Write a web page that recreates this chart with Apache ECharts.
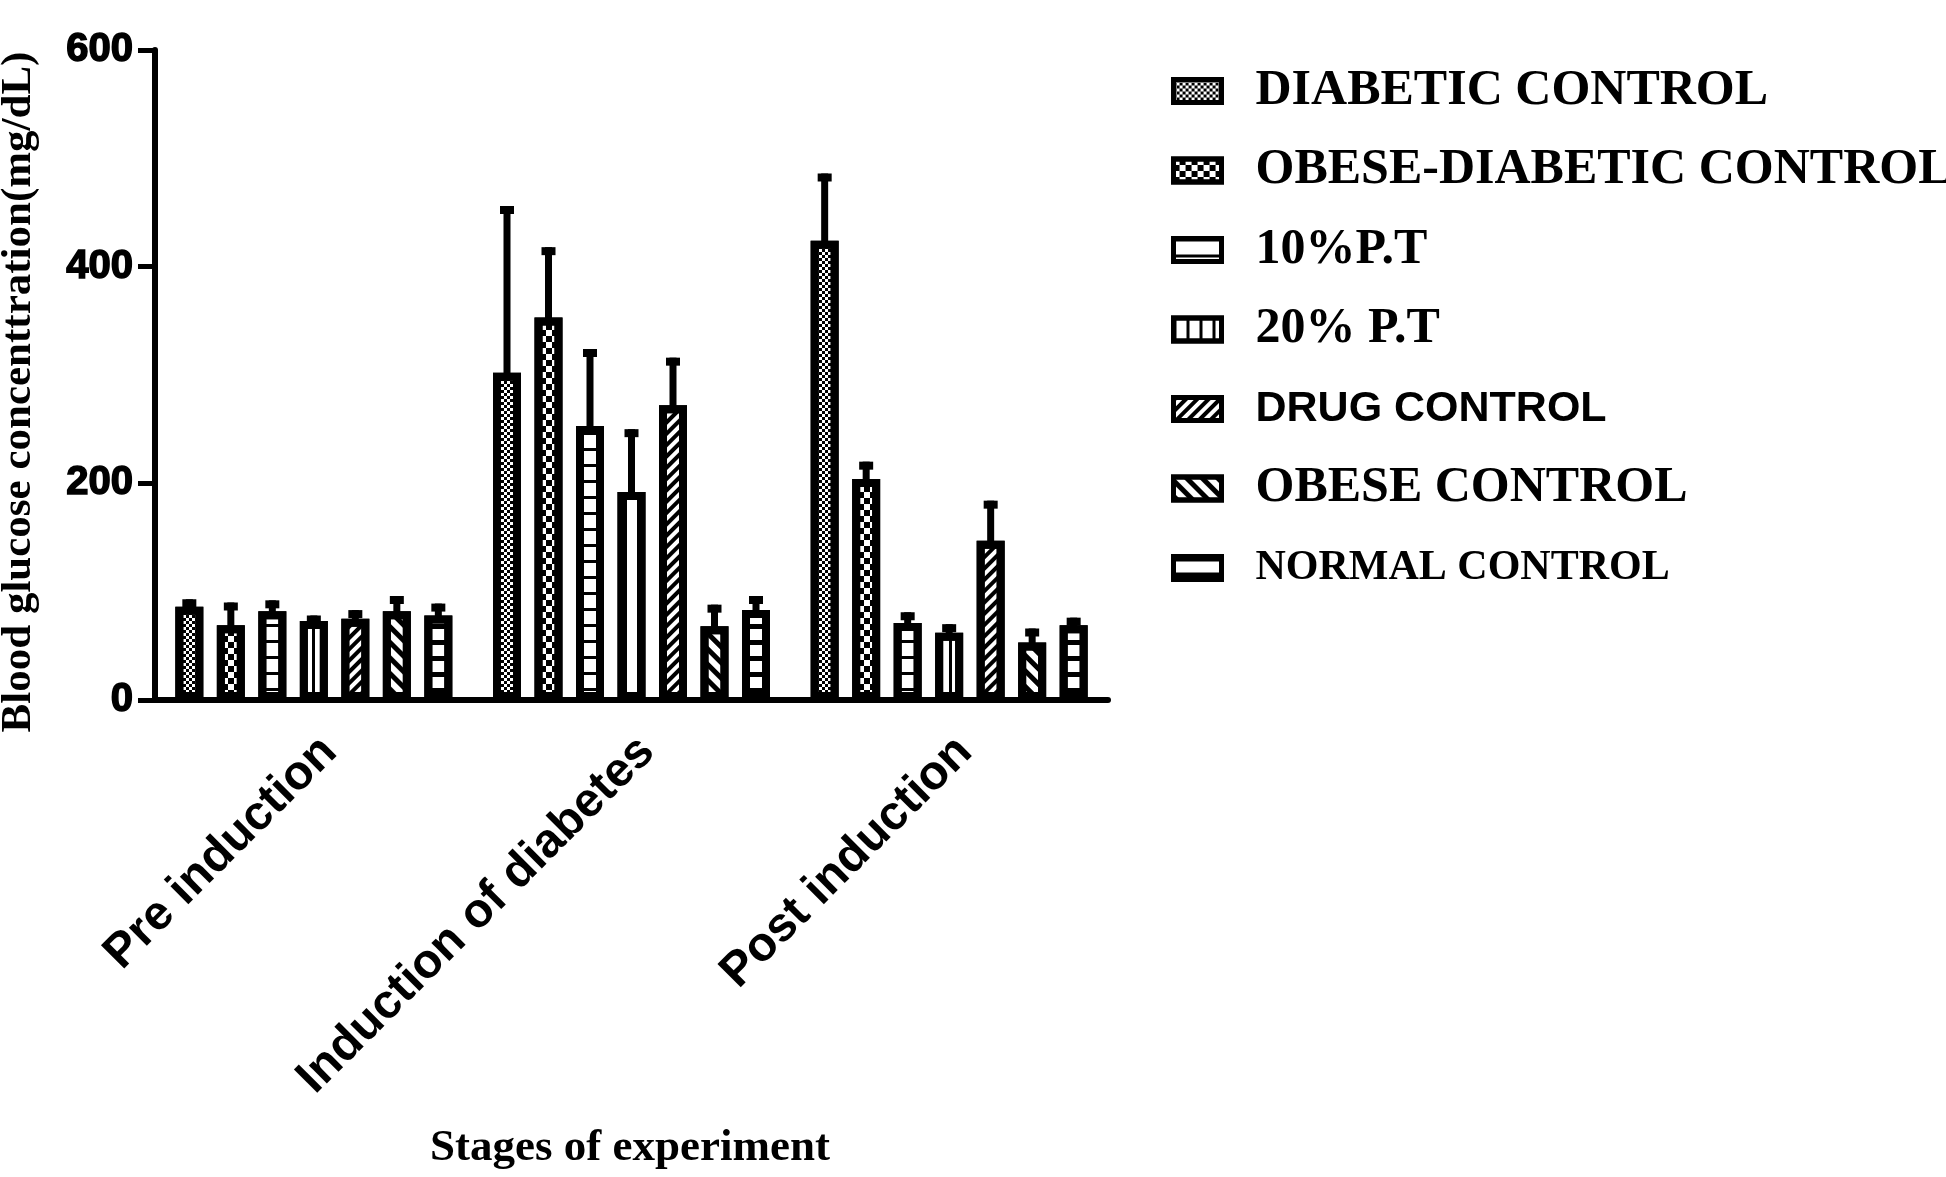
<!DOCTYPE html>
<html><head><meta charset="utf-8">
<script src="https://cdn.jsdelivr.net/npm/echarts@6/dist/echarts.min.js"></script>
<style>html,body{margin:0;padding:0;background:#fff}#chart{width:1946px;height:1177px}</style>
</head><body><div id="chart"></div>
<script>
// ---- data ----
const categories = ['Pre induction', 'Induction of diabetes', 'Post induction'];
const seriesNames = ['DIABETIC CONTROL', 'OBESE-DIABETIC CONTROL', '10%P.T', '20% P.T', 'DRUG CONTROL', 'OBESE CONTROL', 'NORMAL CONTROL'];
const diabeticControl      = [86, 302, 424];
const diabeticControlSD    = [7, 154, 62];
const obeseDiabeticControl   = [69, 353, 204];
const obeseDiabeticControlSD = [21, 65, 16];
const pt10      = [82, 253, 71];
const pt10SD    = [10, 71, 10];
const pt20      = [73, 192, 62];
const pt20SD    = [5, 58, 8];
const drugControl   = [75, 272, 147];
const drugControlSD = [8, 44, 37];
const obeseControl   = [82, 68, 53];
const obeseControlSD = [14, 20, 13];
const normalControl   = [78, 83, 69];
const normalControlSD = [11, 13, 7];
const yTicks = [0, 200, 400, 600];
const yAxisTitle = 'Blood glucose concenttration(mg/dL)';
const xAxisTitle = 'Stages of experiment';

const means = [diabeticControl, obeseDiabeticControl, pt10, pt20, drugControl, obeseControl, normalControl];
const sds = [diabeticControlSD, obeseDiabeticControlSD, pt10SD, pt20SD, drugControlSD, obeseControlSD, normalControlSD];

// ---- styles ----
const SERIF = '"Liberation Serif", "Times New Roman", serif';
const SANS = '"Liberation Sans", Arial, sans-serif';
const decals = [
  {symbol:'rect', symbolSize:1, color:'#000', dashArrayX:[[3,3],[0,3,3,0]], dashArrayY:[3,0]},
  {symbol:'rect', symbolSize:1, color:'#000', dashArrayX:[[6,6],[0,6,6,0]], dashArrayY:[6,0]},
  {symbol:'rect', symbolSize:1, color:'#000', dashArrayX:[1,0], dashArrayY:[3,13]},
  {symbol:'rect', symbolSize:1, color:'#000', dashArrayX:[3,10], dashArrayY:[1,0]},
  {symbol:'rect', symbolSize:1, color:'#000', dashArrayX:[1,0], dashArrayY:[4,4], rotation: -Math.PI/4},
  {symbol:'rect', symbolSize:1, color:'#000', dashArrayX:[1,0], dashArrayY:[5,6], rotation: Math.PI/4},
  {symbol:'rect', symbolSize:1, color:'#000', dashArrayX:[1,0], dashArrayY:[5,11]}
];
const legendText = [
  {fontFamily: SERIF, fontSize: 50},
  {fontFamily: SERIF, fontSize: 50},
  {fontFamily: SERIF, fontSize: 50},
  {fontFamily: SERIF, fontSize: 50},
  {fontFamily: SANS, fontSize: 43},
  {fontFamily: SERIF, fontSize: 50},
  {fontFamily: SERIF, fontSize: 42}
];
const BAR_W = 28, BAR_STEP = 41.5;

const series = [];
means.forEach((m, i) => {
  series.push({
    type: 'bar', name: seriesNames[i], data: m,
    barWidth: BAR_W, barGap: ((BAR_STEP - BAR_W) / BAR_W * 100) + '%',
    itemStyle: {color: '#fff', borderColor: '#000', borderWidth: 8, decal: decals[i]},
    z: 2, silent: true
  });
});
means.forEach((m, i) => {
  series.push({
    type: 'custom', data: m.map((v, k) => [k, v, v + sds[i][k]]),
    encode: {x: 0, y: [1, 2]}, z: 3, silent: true,
    renderItem: function (params, api) {
      const c = api.value(0);
      const p0 = api.coord([c, api.value(1)]);
      const p1 = api.coord([c, api.value(2)]);
      const cx = p0[0] + (i - 3) * BAR_STEP;
      return {type: 'group', children: [
        {type: 'rect', shape: {x: cx - 3.5, y: p1[1], width: 7, height: p0[1] - p1[1] + 2}, style: {fill: '#000'}},
        {type: 'rect', shape: {x: cx - 7, y: p1[1], width: 14, height: 8}, style: {fill: '#000'}}
      ]};
    }
  });
});

const chart = echarts.init(document.getElementById('chart'), null, {renderer: 'canvas'});
chart.setOption({
  animation: false,
  backgroundColor: '#fff',
  grid: {left: 155, top: 50, width: 953, height: 650, containLabel: false},
  xAxis: {
    type: 'category', data: categories,
    axisLine: {lineStyle: {color: '#000', width: 6}},
    axisTick: {alignWithLabel: true, length: 16, lineStyle: {color: '#000', width: 5}},
    axisLabel: {interval: 0, rotate: 45, margin: 60, padding: [0, -22, 0, 0], color: '#000',
      fontFamily: SANS, fontWeight: 'bold', fontSize: 48},
    splitLine: {show: false}
  },
  yAxis: {
    type: 'value', min: yTicks[0], max: yTicks[yTicks.length - 1], interval: yTicks[1] - yTicks[0],
    axisLine: {show: true, lineStyle: {color: '#000', width: 6}},
    axisTick: {show: true, length: 17, lineStyle: {color: '#000', width: 5}},
    axisLabel: {margin: 22, color: '#000', fontFamily: SANS, fontWeight: 'bold', fontSize: 40,
      textBorderColor: '#000', textBorderWidth: 1.5},
    splitLine: {show: false}
  },
  legend: {
    orient: 'vertical', left: 1171, top: 66, padding: 0, itemGap: 29.5,
    itemWidth: 48, itemHeight: 23, icon: 'rect', selectedMode: false,
    itemStyle: {borderColor: '#000', borderWidth: 5},
    textStyle: {color: '#000', fontWeight: 'bold', lineHeight: 50, padding: [0, 0, 0, 29]},
    data: seriesNames.map((n, i) => ({name: n, textStyle: legendText[i]}))
  },
  graphic: [
    {type: 'text', x: 19, y: 392, rotation: Math.PI / 2,
      style: {text: yAxisTitle, fill: '#000', font: 'bold 43px ' + SERIF, textAlign: 'center', textVerticalAlign: 'middle'}},
    {type: 'text', x: 630, y: 1148,
      style: {text: xAxisTitle, fill: '#000', font: 'bold 45px ' + SERIF, textAlign: 'center', textVerticalAlign: 'middle'}}
  ],
  series: series
});
</script></body></html>
